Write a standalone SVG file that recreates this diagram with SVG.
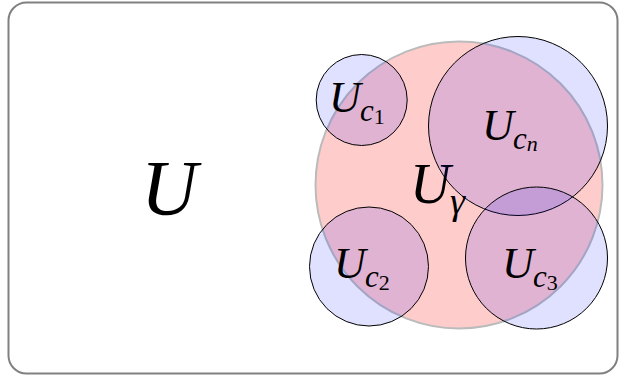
<svg xmlns="http://www.w3.org/2000/svg" width="621" height="377" viewBox="0 0 621 377">
<style>
.frame{fill:#fff;stroke:#808080;stroke-width:2}
.big{fill:#ffcccc;stroke:#bbbbbb;stroke-width:2}
.sub{fill:#0000ff;fill-opacity:0.12;stroke:#000;stroke-width:1}
.m{font-family:'Liberation Serif','DejaVu Serif',serif;font-style:italic;fill:#000}
.r{font-style:normal}
</style>
<rect class="frame" x="8.5" y="2.5" width="609" height="371" rx="18" ry="18"/>
<g id="U">
<text class="m" x="141" y="214" font-size="78">U</text>
</g>
<g id="Ugamma">
<circle class="big" cx="459" cy="185" r="143.5"/>
<text class="m" x="410" y="203" font-size="56">U</text>
<text class="m" x="450" y="214" font-size="38">γ</text>
</g>
<g id="Uc1">
<circle class="sub" cx="361.7" cy="100" r="45.5"/>
<text class="m" x="329" y="112" font-size="44">U</text>
<text class="m" x="360" y="121" font-size="31">c<tspan class="r" font-size="22" dy="3">1</tspan></text>
</g>
<g id="Ucn">
<circle class="sub" cx="518" cy="126" r="89.5"/>
<text class="m" x="482" y="140" font-size="44">U</text>
<text class="m" x="513" y="149" font-size="31">c<tspan font-size="22" dy="2">n</tspan></text>
</g>
<g id="Uc2">
<circle class="sub" cx="369" cy="266.5" r="59.5"/>
<text class="m" x="334" y="278" font-size="44">U</text>
<text class="m" x="365" y="287" font-size="31">c<tspan class="r" font-size="22" dy="3">2</tspan></text>
</g>
<g id="Uc3">
<circle class="sub" cx="536.5" cy="258" r="71"/>
<text class="m" x="502" y="278" font-size="44">U</text>
<text class="m" x="533" y="287" font-size="31">c<tspan class="r" font-size="22" dy="3">3</tspan></text>
</g>
<g id="connectors"/>
</svg>
